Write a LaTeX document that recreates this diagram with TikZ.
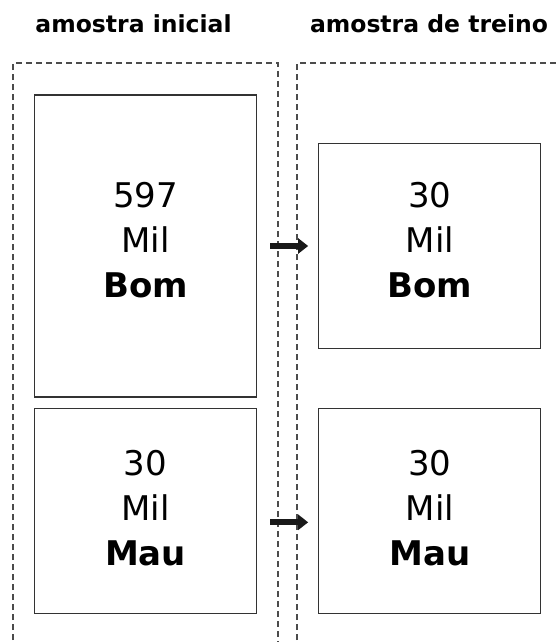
\documentclass[tikz,border=0pt]{standalone}
\usepackage{fontspec}
\setmainfont{DejaVu Sans}
\usetikzlibrary{arrows.meta,positioning}

\begin{document}
\begin{tikzpicture}[x=1pt,y=-1pt,
    caixa/.style={draw=black!80,line width=1.3pt,rectangle,align=center,
      minimum width=222pt,inner sep=0pt,text depth=12pt,
      font=\fontsize{34}{45}\selectfont},
    moldura/.style={draw=black!70,line width=1.4pt,dash pattern=on 6pt off 4pt},
    titulo/.style={anchor=base,font=\fontsize{23.5}{28}\selectfont\bfseries},
    seta/.style={-{Triangle[length=10pt,width=15pt]},line width=6pt,black!90}]
  \useasboundingbox (0,0) rectangle (555,642);

  % dashed frames, open at the bottom
  \draw[moldura] (13,650) -- (13,63) -- (278,63) -- (278,650);
  \draw[moldura] (297,650) -- (297,63) -- (565,63);

  \node[titulo] (titulo0) at (133.5,33) {amostra inicial};
  \node[titulo] (titulo1) at (429,33) {amostra de treino};

  \node[caixa, minimum height=302pt] (bom0) at (145.5,246)
    {597\\Mil\\\textbf{Bom}};
  \node[caixa, minimum height=205pt, text depth=5pt] (mau0) [below=10pt of bom0]
    {30\\Mil\\\textbf{Mau}};
  \node[caixa, minimum height=205pt] (bom1) [right=61pt of bom0]
    {30\\Mil\\\textbf{Bom}};
  \node[caixa, minimum height=205pt, text depth=5pt] (mau1) [right=61pt of mau0]
    {30\\Mil\\\textbf{Mau}};

  \draw[seta] ([xshift=13pt]bom0.east) -- ([xshift=-10pt]bom1.west);
  \draw[seta] ([xshift=13pt,yshift=-11.5pt]mau0.east)
    -- ([xshift=-10pt,yshift=-11.5pt]mau1.west);
\end{tikzpicture}
\end{document}
